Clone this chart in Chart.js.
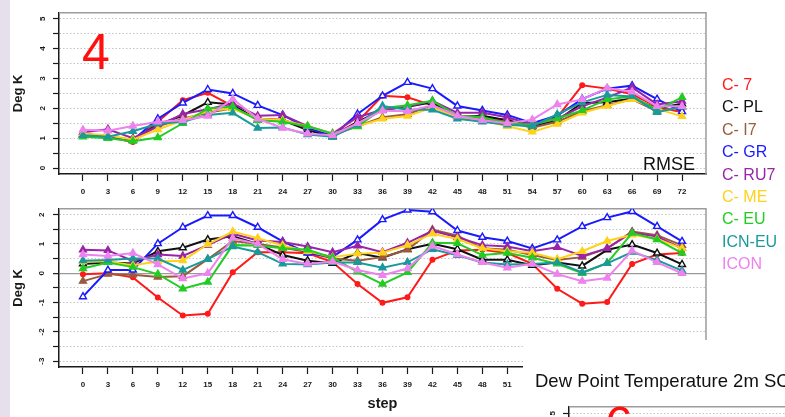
<!DOCTYPE html>
<html>
<head>
<meta charset="utf-8">
<script src="https://cdn.jsdelivr.net/npm/chart.js@4/dist/chart.umd.min.js"></script>
<style>
  html, body { margin: 0; padding: 0; width: 785px; height: 417px; overflow: hidden; background: #fff; }
  body { position: relative; font-family: "Liberation Sans", Arial, sans-serif; }
  #strip { position: absolute; left: 0; top: 0; width: 10px; height: 417px; background: #e5e0ec; }
  canvas { position: absolute; }
  #cRmse { left: 0; top: 0; z-index: 1; }
  #cBias { left: 0; top: 196px; z-index: 1; }
  #nextPanel { position: absolute; left: 523px; top: 340px; width: 262px; height: 77px; background: #fff; z-index: 2; }
  #cNext { left: 510px; top: 394px; z-index: 3; }
  .txt { position: absolute; white-space: nowrap; line-height: 1; z-index: 4; }
  #panelNo { left: 82px; top: 27px; font-size: 50px; color: #ff1010; }
  #panelNo2 { left: 605px; top: 400px; font-size: 50px; color: #ff1010; }
  #rmseTag { right: 90px; top: 155px; font-size: 18px; color: #111; }
  #nextTitle { left: 535px; top: 372px; font-size: 18.5px; color: #111; }
  #legend { position: absolute; left: 722px; top: 74px; font-size: 16px; line-height: 22.4px; z-index: 4; white-space: nowrap; }
</style>
</head>
<body>
<div id="strip"></div>
<canvas id="cRmse" width="785" height="196"></canvas>
<canvas id="cBias" width="785" height="221"></canvas>
<div id="nextPanel"></div>
<canvas id="cNext" width="700" height="200"></canvas>
<div class="txt" id="panelNo">4</div>
<div class="txt" id="panelNo2">6</div>
<div class="txt" id="rmseTag">RMSE</div>
<div class="txt" id="nextTitle">Dew Point Temperature 2m SC</div>
<div id="legend"></div>

<script>
// Forecast steps (hours) — also the x tick labels
const STEPS = [0, 3, 6, 9, 12, 15, 18, 21, 24, 27, 30, 33, 36, 39, 42, 45, 48, 51, 54, 57, 60, 63, 66, 69, 72];

// y tick labels of the two panels
const YTICKS_RMSE = [0, 1, 2, 3, 4, 5];
const YTICKS_BIAS = [-3, -2, -1, 0, 1, 2];

// model names, in legend order
const MODELS = ['C- 7', 'C- PL', 'C- I7', 'C- GR', 'C- RU7', 'C- ME', 'C- EU', 'ICN-EU', 'ICON'];

// RMSE (Deg K) per model
const rmseC7    = [1.15, 1.05, 0.87, 1.55, 2.27, 2.52, 2.07, 1.65, 1.62, 1.35, 1.10, 1.55, 2.42, 2.37, 2.10, 1.75, 1.70, 1.60, 1.40, 1.70, 2.77, 2.66, 2.47, 2.05, 1.87];
const rmseCPL   = [1.15, 1.05, 0.95, 1.45, 1.76, 2.20, 2.13, 1.60, 1.60, 1.27, 1.05, 1.55, 1.95, 2.05, 2.20, 1.70, 1.75, 1.60, 1.40, 1.60, 2.18, 2.20, 2.33, 2.00, 2.15];
const rmseCI7   = [1.10, 1.05, 0.95, 1.40, 1.65, 1.85, 2.00, 1.65, 1.60, 1.35, 1.10, 1.40, 1.70, 1.80, 2.10, 1.75, 1.65, 1.55, 1.35, 1.55, 1.90, 2.10, 2.30, 1.90, 2.05];
const rmseCGR   = [1.12, 1.02, 0.93, 1.65, 2.18, 2.63, 2.50, 2.10, 1.77, 1.35, 1.07, 1.81, 2.42, 2.87, 2.66, 2.08, 1.93, 1.78, 1.50, 1.76, 2.31, 2.66, 2.76, 2.31, 1.89];
const rmseCRU7  = [1.20, 1.30, 1.00, 1.40, 1.81, 1.97, 2.16, 1.75, 1.78, 1.40, 1.15, 1.70, 1.95, 2.05, 2.25, 1.85, 1.85, 1.70, 1.45, 1.65, 2.07, 2.36, 2.70, 2.13, 2.24];
const rmseCME   = [1.15, 1.10, 0.95, 1.29, 1.60, 1.92, 1.99, 1.65, 1.60, 1.40, 1.15, 1.40, 1.65, 1.74, 2.03, 1.70, 1.60, 1.40, 1.21, 1.47, 1.85, 2.08, 2.30, 1.98, 1.73];
const rmseCEU   = [1.05, 1.00, 0.90, 1.02, 1.50, 1.99, 2.06, 1.60, 1.55, 1.40, 1.15, 1.39, 2.00, 2.10, 2.25, 1.75, 1.70, 1.50, 1.45, 1.66, 1.93, 2.30, 2.40, 1.95, 2.37];
const rmseICNEU = [1.10, 1.05, 1.23, 1.48, 1.55, 1.78, 1.85, 1.34, 1.36, 1.12, 1.05, 1.45, 2.08, 1.95, 1.95, 1.65, 1.55, 1.45, 1.40, 1.80, 2.20, 2.45, 2.40, 1.87, 2.05];
const rmseICON  = [1.28, 1.25, 1.41, 1.55, 1.60, 1.74, 2.31, 1.65, 1.34, 1.15, 1.10, 1.50, 1.92, 1.90, 2.10, 1.75, 1.60, 1.50, 1.62, 2.13, 2.30, 2.68, 2.55, 2.07, 2.07];

// Bias (Deg K) per model
const biasC7    = [-0.03, 0.00, -0.14, -0.83, -1.44, -1.38, 0.03, 0.72, 0.72, 0.68, 0.38, -0.37, -1.01, -0.82, 0.46, 0.78, 0.80, 0.69, 0.32, -0.53, -1.04, -0.98, 0.32, 0.64, 0.69];
const biasCPL   = [0.32, 0.37, 0.33, 0.75, 0.87, 1.15, 1.26, 1.00, 0.62, 0.43, 0.34, 0.69, 0.53, 0.82, 1.01, 0.82, 0.46, 0.46, 0.27, 0.37, 0.25, 0.80, 0.98, 0.69, 0.30];
const biasCI7   = [-0.27, -0.03, -0.05, -0.13, -0.10, 0.48, 1.10, 1.00, 0.88, 0.72, 0.50, 0.43, 0.55, 0.80, 1.49, 1.28, 0.85, 0.80, 0.62, 0.45, 0.55, 0.85, 1.42, 1.30, 0.95];
const biasCGR   = [-0.80, 0.11, 0.11, 1.01, 1.57, 1.97, 1.97, 1.57, 1.09, 0.69, 0.56, 1.14, 1.83, 2.16, 2.10, 1.46, 1.23, 1.10, 0.85, 1.14, 1.60, 1.90, 2.11, 1.60, 1.09];
const biasCRU7  = [0.80, 0.78, 0.42, 0.64, 0.59, 0.96, 1.35, 1.12, 1.07, 0.91, 0.72, 0.94, 0.72, 1.04, 1.45, 1.23, 0.96, 0.91, 0.75, 0.89, 0.59, 0.85, 1.39, 1.25, 0.85];
const biasCME   = [0.40, 0.40, 0.27, 0.40, 0.43, 0.99, 1.42, 1.20, 0.95, 0.75, 0.55, 0.67, 0.70, 0.96, 1.35, 1.17, 0.85, 0.75, 0.70, 0.48, 0.75, 1.10, 1.31, 1.17, 0.85];
const biasCEU   = [0.16, 0.37, 0.21, -0.03, -0.53, -0.30, 0.96, 0.95, 0.85, 0.80, 0.53, 0.05, -0.37, 0.03, 1.04, 1.02, 0.62, 0.69, 0.53, 0.32, 0.00, 0.35, 1.37, 1.15, 0.69];
const biasICNEU = [0.43, 0.45, 0.50, 0.50, 0.11, 0.48, 0.91, 0.72, 0.32, 0.30, 0.37, 0.37, 0.19, 0.37, 0.82, 0.61, 0.37, 0.30, 0.32, 0.37, 0.03, 0.34, 0.72, 0.45, 0.09];
const biasICON  = [0.64, 0.59, 0.69, 0.30, -0.18, 0.00, 1.20, 1.00, 0.48, 0.32, 0.40, 0.11, -0.07, 0.16, 0.93, 0.64, 0.37, 0.19, 0.32, -0.03, -0.27, -0.16, 0.77, 0.37, 0.00];

const RMSE = [rmseC7, rmseCPL, rmseCI7, rmseCGR, rmseCRU7, rmseCME, rmseCEU, rmseICNEU, rmseICON];
const BIAS = [biasC7, biasCPL, biasCI7, biasCGR, biasCRU7, biasCME, biasCEU, biasICNEU, biasICON];

// line / marker styling per model
const COLORS  = ['#ff1a1a', '#111111', '#9c5a3c', '#1a1aff', '#9a24a8', '#ffd21a', '#22cc22', '#1a9a9a', '#ee82ee'];
const MARKERS = ['circle', 'triangle', 'triangle', 'triangle', 'triangle', 'triangle', 'triangle', 'triangle', 'triangle'];
const HOLLOW  = [false, true, false, true, false, false, false, false, false];

const FONT = '"Liberation Sans", Arial, sans-serif';
const INK = '#1a1a1a';

// legend: coloured model names
const legendEl = document.getElementById('legend');
MODELS.forEach((name, i) => {
  const d = document.createElement('div');
  d.textContent = name;
  d.style.color = COLORS[i];
  legendEl.appendChild(d);
});

function datasets(values) {
  const n = values.length;
  return values.map((vals, i) => ({
    label: MODELS[i],
    data: STEPS.map((s, k) => ({ x: s, y: vals[k] })),
    borderColor: COLORS[i],
    backgroundColor: COLORS[i],
    borderWidth: 2,
    tension: 0,
    pointStyle: MARKERS[i],
    pointRadius: MARKERS[i] === 'circle' ? 2.3 : 4,
    pointBorderWidth: 1.4,
    pointBorderColor: COLORS[i],
    pointBackgroundColor: HOLLOW[i] ? '#ffffff' : COLORS[i],
    order: n - 1 - i
  }));
}

// R-style axis extension of 4 % on each side
function ext(lo, hi) { const d = (hi - lo) * 0.04; return [lo - d, hi + d]; }

function xAxis(height, title) {
  const [lo, hi] = ext(STEPS[0], STEPS[STEPS.length - 1]);
  return {
    type: 'linear', min: lo, max: hi, display: height > 0,
    afterBuildTicks: s => { s.ticks = STEPS.map(v => ({ value: v })); },
    afterFit: s => { s.height = height; },
    ticks: { autoSkip: false, minRotation: 0, maxRotation: 0, padding: 5.5, color: INK,
             font: { family: FONT, size: 8, weight: 'bold' }, callback: v => String(v) },
    grid: { drawOnChartArea: false, drawTicks: true, tickLength: 7, tickColor: INK, tickWidth: 1.2 },
    border: { display: true, color: INK, width: 1.5 },
    title: { display: !!title, text: title || '', color: INK,
             font: { family: FONT, size: 14.5, weight: 'bold' }, padding: { top: 0, bottom: 4 } }
  };
}

function yAxis(labels, title, solidZero) {
  const [lo, hi] = ext(labels[0], labels[labels.length - 1]);
  return {
    type: 'linear', min: lo, max: hi,
    afterBuildTicks: s => {
      const t = [];
      for (let k = 0; k <= (labels[labels.length - 1] - labels[0]) * 2; k++) t.push({ value: labels[0] + k / 2 });
      s.ticks = t;
    },
    afterFit: s => { s.width = 59; },
    ticks: { minRotation: 90, maxRotation: 90, crossAlign: 'center', padding: 8, color: INK,
             font: { family: FONT, size: 8, weight: 'bold' },
             callback: v => labels.includes(v) ? String(v) : '' },
    grid: {
      drawOnChartArea: true, tickLength: 6, tickColor: INK, tickWidth: 1.2,
      color: c => (solidZero && c.tick && c.tick.value === 0) ? '#9a9a9a' : '#c4c4c4',
      lineWidth: c => (solidZero && c.tick && c.tick.value === 0) ? 1.3 : 1
    },
    border: {
      display: true, color: INK, width: 1.5,
      dash: c => (c.type === 'tick' && !(solidZero && c.tick.value === 0)) ? [1.5, 2] : []
    },
    title: { display: !!title, text: title || '', color: INK,
             font: { family: FONT, size: 13, weight: 'bold' }, padding: { top: 11, bottom: 0 } }
  };
}

// grey box round the plotting region (top and right sides)
const frame = {
  id: 'frame',
  beforeDatasetsDraw(chart) {
    const { ctx, chartArea: a } = chart;
    ctx.save();
    ctx.strokeStyle = '#9c9c9c';
    ctx.lineWidth = 1.5;
    ctx.beginPath();
    ctx.moveTo(a.left, a.top);
    ctx.lineTo(a.right, a.top);
    ctx.lineTo(a.right, a.bottom);
    ctx.stroke();
    ctx.restore();
  }
};

function panel(id, values, yLabels, padTop, xHeight, xTitle, yTitle, solidZero) {
  return new Chart(document.getElementById(id), {
    type: 'line',
    data: { datasets: values ? datasets(values) : [] },
    options: {
      responsive: false, animation: false, devicePixelRatio: 1,
      layout: { padding: { top: padTop, right: 79, bottom: 0, left: 0 } },
      plugins: { legend: { display: false }, tooltip: { enabled: false } },
      scales: { x: xAxis(xHeight, xTitle), y: yAxis(yLabels, yTitle, solidZero) }
    },
    plugins: [frame]
  });
}

panel('cRmse', RMSE, YTICKS_RMSE, 5, 22, null, 'Deg K', false);
panel('cBias', BIAS, YTICKS_BIAS, 1, 50, 'step', 'Deg K', true);
panel('cNext', null, YTICKS_RMSE, 5, 0, null, null, false);
</script>
</body>
</html>
